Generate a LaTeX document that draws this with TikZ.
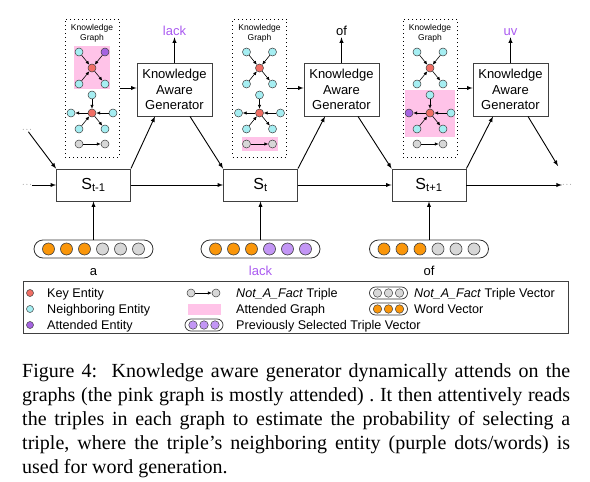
\documentclass[tikz,border=0pt]{standalone}
\usepackage{fontspec}
\setmainfont{Liberation Sans}
\newfontfamily\capfont{Liberation Serif}
\usetikzlibrary{arrows.meta}

\definecolor{keyred}{RGB}{240,110,100}
\definecolor{nbrcyan}{RGB}{165,238,242}
\definecolor{attpurple}{RGB}{165,100,225}
\definecolor{nfgray}{RGB}{215,215,215}
\definecolor{pinkhl}{RGB}{255,195,232}
\definecolor{vecorange}{RGB}{250,150,10}
\definecolor{vecpurple}{RGB}{195,150,245}
\definecolor{wordpurple}{RGB}{170,90,240}

\tikzset{
  ent/.style={circle, draw=black!75, line width=0.5pt, inner sep=0pt, minimum size=8pt},
  key/.style={ent, fill=keyred},
  nbr/.style={ent, fill=nbrcyan},
  att/.style={ent, fill=attpurple},
  nfe/.style={ent, fill=nfgray},
  kgarrow/.style={-{Latex[length=3.8pt,width=3.4pt]}, line width=0.6pt},
  kgbox/.style={draw, line width=1pt, dash pattern=on 1pt off 3pt, minimum width=54pt, minimum height=138pt, inner sep=0pt},
  kgtitle/.style={align=center, font=\fontsize{8.5}{10}\selectfont, inner sep=0pt},
  gen/.style={draw=black!75, line width=0.9pt, minimum width=75pt, minimum height=53pt, inner sep=0pt, align=center, font=\fontsize{13}{15.5}\selectfont},
  state/.style={draw=black!75, line width=0.9pt, minimum width=74pt, minimum height=32pt, inner sep=0pt, font=\fontsize{16}{18}\selectfont},
  flow/.style={-latex, line width=0.9pt},
  word/.style={font=\fontsize{13}{15}\selectfont, inner sep=1.5pt, text height=9.3pt, text depth=0pt},
  vecpill/.style={draw=black!80, line width=0.8pt, rounded corners=9pt, minimum width=119pt, minimum height=18pt, inner sep=0pt},
  vecdot/.style={circle, draw=black!75, line width=0.6pt, minimum size=12pt, inner sep=0pt},
  minipill/.style={draw=black!80, line width=0.7pt, rounded corners=6pt, minimum width=38pt, minimum height=12pt, inner sep=0pt},
  minidot/.style={circle, draw=black!75, line width=0.5pt, minimum size=8.5pt, inner sep=0pt},
  legtext/.style={anchor=west, font=\fontsize{12.6}{14}\selectfont, inner sep=0pt, text height=9pt, text depth=0pt},
}

\newcommand{\kgGraph}[4]{%
  \begin{scope}[shift={(#2,0)}]
    \node[kgbox] (#1) at (0,88) {};
    \node[kgtitle] (#1t) at (0,33) {Knowledge\\Graph};
    \node[key] (#1u) at (0,68) {};
    \node[nbr] (#1ua) at (-13,52) {};
    \node[#3] (#1ub) at (13,52) {};
    \node[nbr] (#1uc) at (-13,84) {};
    \node[nbr] (#1ud) at (13,84) {};
    \draw[kgarrow] (#1ua) -- (#1u);
    \draw[kgarrow] (#1ub) -- (#1u);
    \draw[kgarrow] (#1uc) -- (#1u);
    \draw[kgarrow] (#1u) -- (#1ud);
    \node[key] (#1l) at (0,113) {};
    \node[nbr] (#1la) at (0,95) {};
    \node[#4] (#1lb) at (-21,113) {};
    \node[nbr] (#1lc) at (21,113) {};
    \node[nbr] (#1ld) at (-13,129) {};
    \node[nbr] (#1le) at (13,129) {};
    \draw[kgarrow] (#1la) -- (#1l);
    \draw[kgarrow] (#1l) -- (#1lb);
    \draw[kgarrow] (#1lc) -- (#1l);
    \draw[kgarrow] (#1ld) -- (#1l);
    \draw[kgarrow] (#1l) -- (#1le);
    \node[nfe] (#1ta) at (-13,144) {};
    \node[nfe] (#1tb) at (13,144) {};
    \draw[kgarrow] (#1ta) -- (#1tb);
  \end{scope}}

\newcommand{\wordVec}[3]{%
  \node[vecpill] (#1) at (#2,249) {};
  \foreach \i in {0,1,2} \node[vecdot, fill=vecorange] (#1d\i) at ({#2-45+18*\i},249) {};
  \foreach \i in {3,4,5} \node[vecdot, fill=#3] (#1d\i) at ({#2-45+18*\i},249) {};}

\newcommand{\miniVec}[4]{%
  \node[minipill] (#1) at (#2,#3) {};
  \foreach \i in {-1,0,1} \node[minidot, fill=#4] (#1d\i) at ({#2+11*\i},#3) {};}

\begin{document}
\begin{tikzpicture}[x=1pt,y=-1pt]
\useasboundingbox (0,0) rectangle (590,482);

% highlighted parts
\fill[pinkhl] (74,46) rectangle (110,89);
\fill[pinkhl] (241.5,137) rectangle (277.5,151);
\fill[pinkhl] (405,90) rectangle (455,137);

\kgGraph{kg1}{92}{att}{nbr}
\kgGraph{kg2}{259.5}{nbr}{nbr}
\kgGraph{kg3}{430}{nbr}{att}

\node[gen] (gen1) at (174.5,89.5) {Knowledge\\Aware\\Generator};
\node[gen] (gen2) at (341.5,89.5) {Knowledge\\Aware\\Generator};
\node[gen] (gen3) at (510.5,89.5) {Knowledge\\Aware\\Generator};

\node[word, text=wordpurple] (out1) at (174.5,31) {lack};
\node[word] (out2) at (341.5,31) {of};
\node[word, text=wordpurple] (out3) at (510.5,31) {uv};

\node[state] (s1) at (93.5,185) {S\textsubscript{t-1}};
\node[state] (s2) at (260.5,185) {S\textsubscript{t}};
\node[state] (s3) at (429,185) {S\textsubscript{t+1}};

\wordVec{v1}{93.5}{nfgray}
\wordVec{v2}{260.5}{vecpurple}
\wordVec{v3}{429}{nfgray}

\node[word] (w1) at (93.5,271) {a};
\node[word, text=wordpurple] (w2) at (260.5,271) {lack};
\node[word] (w3) at (429,271) {of};

\node[font=\scriptsize, inner sep=0pt] (dotsL) at (27,185) {$\cdots$};
\node[font=\scriptsize, inner sep=0pt] (dotsT) at (27,130) {$\cdots$};
\node[font=\scriptsize, inner sep=0pt] (dotsR) at (567,185) {$\cdots$};
\coordinate (endD) at (558,166);

\draw[flow] (dotsL) -- (s1);
\draw[flow] (s1) -- (s2);
\draw[flow] (s2) -- (s3);
\draw[flow] (s3) -- (dotsR);
\draw[flow] (dotsT) -- (s1.north west);
\draw[flow] (s1.north east) -- ([xshift=-19.5pt]gen1.south);
\draw[flow] ([xshift=15.5pt]gen1.south) -- (s2.north west);
\draw[flow] (s2.north east) -- ([xshift=-16.5pt]gen2.south);
\draw[flow] ([xshift=16.5pt]gen2.south) -- (s3.north west);
\draw[flow] (s3.north east) -- ([xshift=-17.5pt]gen3.south);
\draw[flow] ([xshift=17.5pt]gen3.south) -- (endD);
\foreach \k in {1,2,3} {
  \draw[flow] (kg\k.east) -- (gen\k.west |- kg\k.east);
  \draw[flow] (gen\k) -- (out\k);
  \draw[flow] (v\k) -- (s\k);
}

% legend
\node[draw=black!75, line width=0.8pt, minimum width=545pt, minimum height=52pt, inner sep=0pt] (legend) at (295.5,307) {};
\node[key, minimum size=7pt] (lk) at (30,293) {};
\node[nbr, minimum size=7pt] (ln) at (30,309) {};
\node[att, minimum size=7pt] (la) at (30,325) {};
\node[legtext] (lkt) at (47,293) {Key Entity};
\node[legtext] (lnt) at (47,309) {Neighboring Entity};
\node[legtext] (lat) at (47,325) {Attended Entity};
\node[nfe] (lta) at (191,293) {};
\node[nfe] (ltb) at (216,293) {};
\draw[kgarrow] (lta) -- (ltb);
\fill[pinkhl] (188,304) rectangle (221,315);
\miniVec{lp}{204}{325}{vecpurple}
\node[legtext] (ltt) at (236,293) {\textit{Not\_A\_Fact} Triple};
\node[legtext] (lgt) at (236,309) {Attended Graph};
\node[legtext] (lpt) at (236,325) {Previously Selected Triple Vector};
\miniVec{lg}{388.5}{293}{nfgray}
\miniVec{lo}{388.5}{309}{vecorange}
\node[legtext] (lgv) at (414,293) {\textit{Not\_A\_Fact} Triple Vector};
\node[legtext] (lov) at (414,309) {Word Vector};

% caption
\node[anchor=north west, text width=548pt, align=justify, inner sep=0pt,
  font=\capfont\fontsize{20}{24}\selectfont\frenchspacing] (caption) at (22,363)
  {Figure 4:\ \ Knowledge aware generator dynamically attends on the\linebreak
   graphs (the pink graph is mostly attended) . It then attentively reads\linebreak
   the triples in each graph to estimate the probability of selecting a\linebreak
   triple, where the triple’s neighboring entity (purple dots/words) is\linebreak
   used for word generation.};
\end{tikzpicture}
\end{document}
